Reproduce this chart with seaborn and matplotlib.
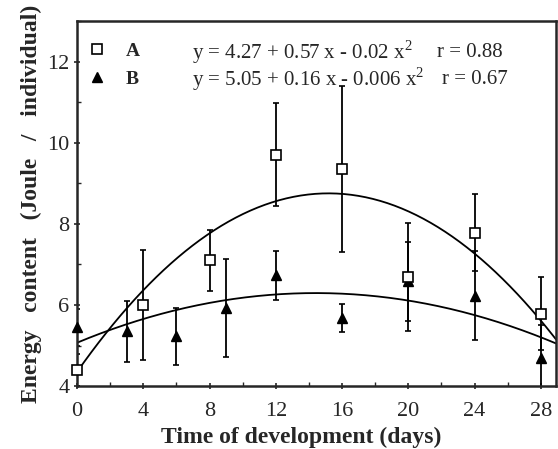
import numpy as np
import matplotlib
matplotlib.use("Agg")
import matplotlib.pyplot as plt
import seaborn as sns
from matplotlib.lines import Line2D
from matplotlib.ticker import MultipleLocator

# values
days_a = [0, 4, 8, 12, 16, 20, 24, 28]
energy_a = [4.4, 6.0, 7.1, 9.7, 9.35, 6.7, 7.78, 5.78]
err_a = [0.4, 1.35, 0.75, 1.27, 2.05, 1.33, 0.95, 0.9]

days_b = [0, 3, 6, 9, 12, 16, 20, 24, 28]
energy_b = [5.45, 5.35, 5.23, 5.93, 6.73, 5.68, 6.58, 6.23, 4.7]
err_b = [0.45, 0.75, 0.7, 1.2, 0.6, 0.35, 0.97, 1.1, 0.8]

# quadratic fits as drawn (intercept, x, x^2)
coef_a = [4.35, 0.58, -0.0191]
coef_b = [5.07, 0.17, -0.0059]

eq_a = "y = 4.27 + 0.57 x - 0.02 x$^{2}$"
eq_b = "y = 5.05 + 0.16 x - 0.006 x$^{2}$"
r_a = "r = 0.88"
r_b = "r = 0.67"

sns.set_style("ticks")
plt.rcParams['font.family'] = ['Liberation Serif', 'DejaVu Serif']
plt.rcParams['mathtext.fontset'] = 'custom'
plt.rcParams['mathtext.rm'] = 'Liberation Serif'

fig = plt.figure(figsize=(5.58, 4.49), dpi=100)
ax = fig.add_axes([0.138, 0.140, 0.858, 0.813])

xs = np.linspace(0, 28.9, 200)
fit_a = coef_a[0] + coef_a[1] * xs + coef_a[2] * xs ** 2
fit_b = coef_b[0] + coef_b[1] * xs + coef_b[2] * xs ** 2
sns.lineplot(x=xs, y=fit_a, color='black', lw=1.3, ax=ax)
sns.lineplot(x=xs, y=fit_b, color='black', lw=1.3, ax=ax)

ax.errorbar(days_b, energy_b, yerr=err_b, fmt='none', ecolor='black',
            elinewidth=1.3, capsize=2.5, capthick=1.2, clip_on=True)
ax.errorbar(days_a, energy_a, yerr=err_a, fmt='none', ecolor='black',
            elinewidth=1.3, capsize=2.5, capthick=1.2, clip_on=True)
ax.plot(days_b, energy_b, ls='none', marker='^', ms=7.5, color='black',
        clip_on=False, zorder=5)
ax.plot(days_a, energy_a, ls='none', marker='s', ms=7, mfc='white',
        mec='black', mew=1.2, clip_on=False, zorder=6)

ax.set_xlim(0, 28.9)
ax.set_ylim(4, 13)
ax.xaxis.set_major_locator(MultipleLocator(4))
ax.xaxis.set_minor_locator(MultipleLocator(2))
ax.yaxis.set_major_locator(MultipleLocator(2))
ax.yaxis.set_minor_locator(MultipleLocator(1))
ax.tick_params(which='major', direction='inout', length=5, width=1.2,
               labelsize=16)
ax.tick_params(axis='x', which='major', pad=9)
ax.tick_params(axis='y', which='major', pad=3)
ax.tick_params(which='minor', direction='in', length=3, width=1)
for s in ax.spines.values():
    s.set_linewidth(1.8)

ax.set_xlabel("Time of development (days)", fontsize=17, fontweight='bold')
ax.set_ylabel("Energy   content   (Joule   /   individual)", fontsize=17,
              fontweight='bold')
ax.xaxis.set_label_coords(0.468, -0.112)
ax.yaxis.set_label_coords(-0.074, 0.5)

handles = [Line2D([], [], ls='none', marker='s', ms=7, mfc='white',
                  mec='black', mew=1.2),
           Line2D([], [], ls='none', marker='^', ms=7.5, color='black')]
ax.legend(handles, ["A", "B"], loc='upper left', bbox_to_anchor=(-0.016, 0.99),
          frameon=False, prop={'family': 'Liberation Serif', 'weight': 'bold',
                               'size': 14},
          handlelength=1.0, handletextpad=1.0, labelspacing=0.55)

ax.text(0.24, 0.914, eq_a, transform=ax.transAxes, fontsize=15, va='center')
ax.text(0.24, 0.84, eq_b, transform=ax.transAxes, fontsize=15, va='center')
ax.text(0.752, 0.914, r_a, transform=ax.transAxes, fontsize=15, va='center')
ax.text(0.762, 0.84, r_b, transform=ax.transAxes, fontsize=15, va='center')

fig.savefig("out.png", dpi=100)
